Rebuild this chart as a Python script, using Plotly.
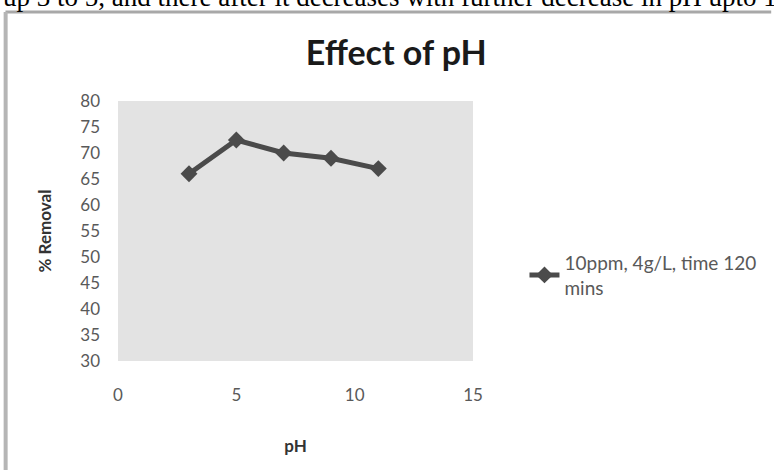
import plotly.graph_objects as go

ph = [3, 5, 7, 9, 11]
removal = [66, 72.5, 70, 69, 67]
series_name = "10ppm, 4g/L, time 120<br>mins"
y_ticks = [30, 35, 40, 45, 50, 55, 60, 65, 70, 75, 80]
x_ticks = [0, 5, 10, 15]

FONT = "Lato, Open Sans, sans-serif"

fig = go.Figure()
fig.add_trace(go.Scatter(
    x=ph, y=removal, mode="lines+markers", name=series_name,
    line=dict(color="#4b4b4b", width=5),
    marker=dict(symbol="diamond", size=13, color="#4b4b4b"),
    showlegend=True,
))

fig.update_layout(
    width=774, height=470,
    margin=dict(l=118, r=299, t=101, b=109),
    paper_bgcolor="white",
    plot_bgcolor="#e3e3e3",
    font=dict(family=FONT, color="#595959", size=17),
    title=dict(text="<b>Effect of pH</b>", x=0.512, xanchor="center",
               y=1 - 53/470, yanchor="middle",
               font=dict(size=34, color="#1a1a1a", family=FONT)),
    xaxis=dict(range=[0, 15], tickvals=x_ticks, showgrid=False, zeroline=False,
               showline=False, ticks="", ticklabelstandoff=22,
               tickfont=dict(size=17, color="#595959"),
               title=dict(text="<b>pH</b>", font=dict(size=17, color="#333333"), standoff=36)),
    yaxis=dict(range=[30, 80], tickvals=y_ticks, showgrid=False, zeroline=False,
               showline=False, ticks="", ticklabelstandoff=17,
               tickfont=dict(size=17, color="#595959"),
               title=dict(text="<b>% Removal</b>", font=dict(size=17, color="#333333"), standoff=24)),
    legend=dict(x=1.145, y=0.33, xanchor="left", yanchor="middle",
                font=dict(size=19, color="#595959"), bgcolor="rgba(0,0,0,0)"),
)

# frame of the embedded chart image
frame_top = 1 + (101 - 12) / 260
fig.add_shape(type="line", xref="paper", yref="paper",
              x0=-0.317, x1=1.84, y0=frame_top, y1=frame_top,
              line=dict(color="#a8a8a8", width=3))
fig.add_shape(type="line", xref="paper", yref="paper",
              x0=-(118 - 5) / 357, x1=-(118 - 5) / 357, y0=frame_top, y1=-0.5,
              line=dict(color="#b5b5b5", width=4))

# clipped line of page text above the chart
fig.add_annotation(text="up 3 to 5, and there after it decreases with further decrease in pH upto 11",
                   xref="paper", yref="paper", x=-(118 - 0) / 357, y=1 + (101 - 14) / 260,
                   xanchor="left", yanchor="bottom", showarrow=False,
                   font=dict(family="Liberation Serif, serif", size=27, color="#000000"))

fig.write_html("out.html", config={"displayModeBar": False},
               post_script="document.body.style.margin='0';")
